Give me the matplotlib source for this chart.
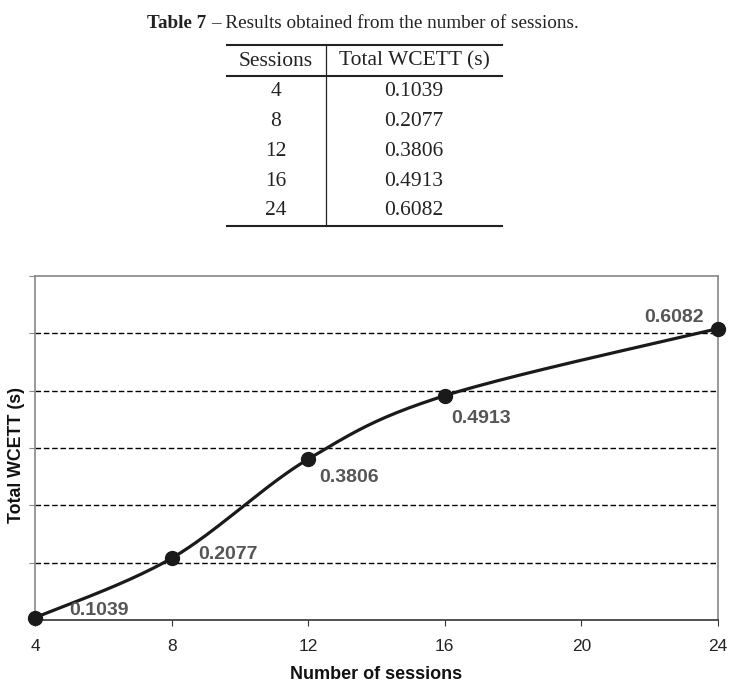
import numpy as np
import matplotlib.pyplot as plt
from matplotlib.lines import Line2D

sessions = [4, 8, 12, 16, 24]
wcett = [0.1039, 0.2077, 0.3806, 0.4913, 0.6082]
xticks = [4, 8, 12, 16, 20, 24]
grid_y = [0.2, 0.3, 0.4, 0.5, 0.6]
# label offsets in points (dx, dy) for each data label
label_off = [(25, 5), (19.5, 3), (8, -13), (4.5, -16.5), (-10, 8)]
label_ha = ['left', 'left', 'left', 'left', 'right']

serif = ['Liberation Serif', 'DejaVu Serif']
narrow = ['Liberation Sans Narrow', 'Liberation Sans', 'DejaVu Sans']
sans = ['Liberation Sans', 'DejaVu Sans']


def smooth(xs, ys, n=40):
    # excel style smoothed line (catmull-rom as cubic bezier)
    p = np.column_stack([xs, ys]).astype(float)
    pts = []
    for i in range(len(p) - 1):
        p0 = p[i - 1] if i > 0 else p[i]
        p1 = p[i]
        p2 = p[i + 1]
        p3 = p[i + 2] if i + 2 < len(p) else p[i + 1]
        c1 = p1 + (p2 - p0) / 6
        c2 = p2 - (p3 - p1) / 6
        t = np.linspace(0, 1, n)[:, None]
        seg = ((1 - t) ** 3) * p1 + 3 * ((1 - t) ** 2) * t * c1 + 3 * (1 - t) * t ** 2 * c2 + t ** 3 * p2
        pts.append(seg if i == 0 else seg[1:])
    pts = np.vstack(pts)
    return pts[:, 0], pts[:, 1]


fig = plt.figure(figsize=(7.35, 6.9), dpi=100)
W, H = 735.0, 690.0


def fy(py):
    return 1 - py / H


# ---- table part ----
fig.text(206 / W, fy(23), 'Table 7', fontfamily=serif, fontsize=13.8, fontweight='bold',
         ha='right', va='center', color='#222222')
fig.text(211 / W, fy(23), '\u2013 Results obtained from the number of sessions.', fontfamily=serif,
         fontsize=13.8, ha='left', va='center', color='#222222')

tl, tr = 227 / W, 502 / W
vx = 326 / W
for py in [45, 76, 226]:
    fig.add_artist(Line2D([tl, tr], [fy(py), fy(py)], color='#222222', lw=1.5))
fig.add_artist(Line2D([vx, vx], [fy(45), fy(226)], color='#222222', lw=0.9))

c1x, c2x = 276 / W, 414 / W
fig.text(c1x, fy(61), 'Sessions', fontfamily=serif, fontsize=15.5, ha='center', va='center', color='#222222')
fig.text(c2x, fy(61), 'Total WCETT (s)', fontfamily=serif, fontsize=15.5, ha='center', va='center', color='#222222')
for i, (s, v) in enumerate(zip(sessions, wcett)):
    py = 92 + i * 29.7
    fig.text(c1x, fy(py), str(s), fontfamily=serif, fontsize=15.5, ha='center', va='center', color='#222222')
    fig.text(c2x, fy(py), '%.4f' % v, fontfamily=serif, fontsize=15.5, ha='center', va='center', color='#222222')

# ---- chart part ----
ax = fig.add_axes([35 / W, 70 / H, 683 / W, 344 / H])
sx, sy = smooth(sessions, wcett)
ax.plot(sx, sy, color='#1a1a1a', lw=2.3, zorder=3, clip_on=False)
ax.plot(sessions, wcett, 'o', color='#1a1a1a', ms=10, zorder=4, clip_on=False)

for yv in grid_y:
    ax.axhline(yv, color='black', lw=1.0, ls=(0, (4, 2)), zorder=1)

for i, (s, v) in enumerate(zip(sessions, wcett)):
    ax.annotate('%.4f' % v, (s, v), xytext=label_off[i], textcoords='offset points',
                ha=label_ha[i], va='center', fontfamily=sans, fontweight='bold',
                fontsize=14, color='#555555')

ax.set_xlim(4, 24)
ax.set_ylim(0.1, 0.7)
ax.set_xticks(xticks)
ax.set_xticklabels([str(x) for x in xticks], fontfamily=narrow, fontsize=12.5, color='#222222')
ax.set_yticks(grid_y + [0.7])
ax.set_yticklabels([])
ax.tick_params(axis='x', direction='out', length=4, width=0.8, color='#333333', pad=10)
ax.tick_params(axis='y', direction='out', length=4, width=0.8, color='#888888')

for side in ['left', 'top', 'right']:
    ax.spines[side].set_color('#888888')
    ax.spines[side].set_linewidth(1.2)
ax.spines['bottom'].set_color('#333333')
ax.spines['bottom'].set_linewidth(1.2)

ax.set_xlabel('Number of sessions', fontfamily=narrow, fontweight='bold', fontsize=13, color='#111111', labelpad=8)
ax.set_ylabel('Total WCETT (s)', fontfamily=sans, fontweight='bold', fontsize=12.8, color='#111111')
ax.yaxis.set_label_coords(-0.014, 0.48)

fig.savefig('out.png', dpi=100)
